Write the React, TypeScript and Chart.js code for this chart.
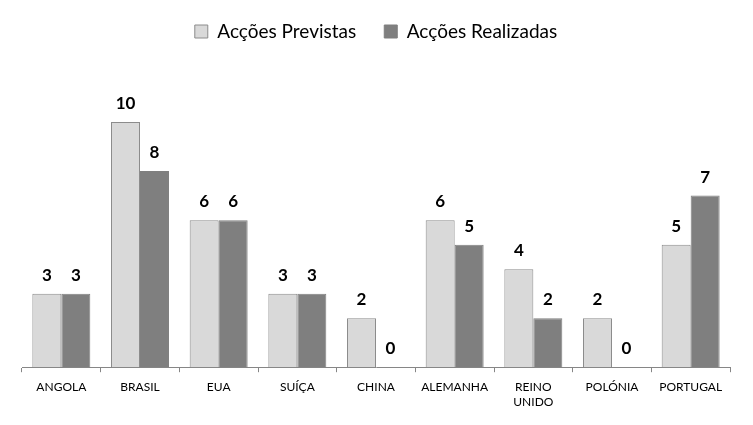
import React, { useEffect, useRef } from "react";
import { Chart, registerables } from "chart.js";

Chart.register(...registerables);

const categories: (string | string[])[] = [
  "ANGOLA",
  "BRASIL",
  "EUA",
  "SUÍÇA",
  "CHINA",
  "ALEMANHA",
  ["REINO", "UNIDO"],
  "POLÓNIA",
  "PORTUGAL",
];
const previstas = [3, 10, 6, 3, 2, 6, 4, 2, 5];
const realizadas = [3, 8, 6, 3, 0, 5, 2, 0, 7];
const seriesNames = ["Acções Previstas", "Acções Realizadas"];

const valueLabels = {
  id: "valueLabels",
  afterDatasetsDraw(chart: any) {
    const ctx = chart.ctx;
    ctx.save();
    ctx.font = "bold 17px Lato";
    ctx.fillStyle = "#000";
    ctx.textAlign = "center";
    ctx.textBaseline = "alphabetic";
    chart.data.datasets.forEach((ds: any, i: number) => {
      const meta = chart.getDatasetMeta(i);
      meta.data.forEach((el: any, j: number) => {
        ctx.fillText(String(ds.data[j]), el.x, el.y - 13);
      });
    });
    ctx.restore();
  },
};

export default function App() {
  const ref = useRef<HTMLCanvasElement>(null);
  useEffect(() => {
    const chart = new Chart(ref.current!, {
      type: "bar",
      data: {
        labels: categories,
        datasets: [
          {
            label: seriesNames[0],
            data: previstas,
            backgroundColor: "#d9d9d9",
            borderColor: "#8c8c8c",
            borderWidth: 1,
          },
          {
            label: seriesNames[1],
            data: realizadas,
            backgroundColor: "#7f7f7f",
            borderColor: "#7f7f7f",
            borderWidth: 1,
          },
        ],
      },
      plugins: [valueLabels],
      options: {
        animation: false,
        responsive: false,
        maintainAspectRatio: false,
        layout: { padding: { left: 22, right: 23, top: -6, bottom: 8 } },
        datasets: { bar: { categoryPercentage: 0.737, barPercentage: 1 } },
        plugins: {
          legend: {
            position: "top",
            labels: {
              font: { family: "Lato", size: 19 },
              color: "#000",
              boxWidth: 13,
              boxHeight: 13,
              padding: 28,
            },
          },
          tooltip: { enabled: false },
        },
        scales: {
          x: {
            grid: {
              drawOnChartArea: false,
              drawTicks: true,
              tickLength: 5,
              color: "#868686",
            },
            border: { color: "#868686" },
            ticks: {
              font: { family: "Lato", size: 12 },
              color: "#000",
              padding: 8,
              maxRotation: 0,
            },
          },
          y: {
            display: false,
            min: 0,
            max: 12.9,
          },
        },
      },
    });
    return () => chart.destroy();
  }, []);
  return (
    <div style={{ position: "absolute", left: 0, top: 0, width: 753, height: 425, background: "#fff" }}>
      <canvas ref={ref} width={753} height={425} />
    </div>
  );
}
